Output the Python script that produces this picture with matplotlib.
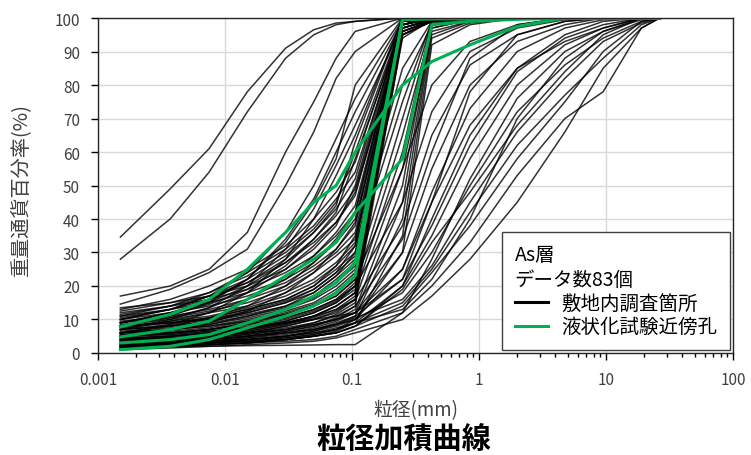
import matplotlib.pyplot as plt
from matplotlib.ticker import FixedLocator, LogLocator, NullFormatter, FuncFormatter
from matplotlib.lines import Line2D

plt.rcParams['font.family'] = ['Noto Sans CJK JP', 'DejaVu Sans']

# sieve / hydrometer grain sizes (mm)
grain_size = [0.0015, 0.0037, 0.0075, 0.015, 0.03, 0.05, 0.075, 0.106,
              0.25, 0.425, 0.85, 2.0, 4.75, 9.5, 19.0, 26.5]

# percent passing, site investigation holes
site_curves = [
    [34.6, 49, 61, 78, 91, 96.5, 98.5, 99, 100, 100, 100, 100, 100, 100, 100, 100],
    [28, 40, 54, 72, 88, 95, 98, 99, 100, 100, 100, 100, 100, 100, 100, 100],
    [17, 20, 25, 36, 60, 75, 88, 96, 100, 100, 100, 100, 100, 100, 100, 100],
    [14.6, 19, 24, 31, 50, 66, 82, 90, 100, 100, 100, 100, 100, 100, 100, 100],
    [12, 14, 16, 19, 24, 29, 35, 42, 99, 100, 100, 100, 100, 100, 100, 100],
    [11, 13, 15, 18, 22, 27, 33, 40, 98, 99.5, 100, 100, 100, 100, 100, 100],
    [10, 12, 14, 17, 21, 26, 31, 38, 99, 100, 100, 100, 100, 100, 100, 100],
    [9.5, 11, 13, 16, 20, 25, 30, 36, 97, 99.5, 100, 100, 100, 100, 100, 100],
    [9, 10.5, 12.5, 15, 19, 24, 29, 34, 99.5, 100, 100, 100, 100, 100, 100, 100],
    [8.5, 10, 12, 14, 18, 22, 27, 33, 96, 99, 100, 100, 100, 100, 100, 100],
    [8, 9.5, 11, 13.5, 17, 21, 26, 32, 99, 100, 100, 100, 100, 100, 100, 100],
    [8, 9, 10.5, 13, 16, 20, 25, 30, 95, 99, 100, 100, 100, 100, 100, 100],
    [7.5, 9, 10, 12.5, 15.5, 19, 24, 29, 98, 100, 100, 100, 100, 100, 100, 100],
    [7, 8.5, 10, 12, 15, 18, 23, 28, 99.5, 100, 100, 100, 100, 100, 100, 100],
    [7, 8, 9.5, 11.5, 14, 17, 22, 27, 97, 99.5, 100, 100, 100, 100, 100, 100],
    [6.5, 7.5, 9, 11, 13.5, 16.5, 21, 26, 99, 100, 100, 100, 100, 100, 100, 100],
    [6, 7, 8.5, 10.5, 13, 16, 20, 25, 96, 99, 100, 100, 100, 100, 100, 100],
    [6, 7, 8, 10, 12.5, 15, 19, 24, 98, 100, 100, 100, 100, 100, 100, 100],
    [5.5, 6.5, 7.5, 9.5, 12, 14.5, 18, 23, 99, 100, 100, 100, 100, 100, 100, 100],
    [5.5, 6, 7, 9, 11, 14, 17, 22, 95, 99, 100, 100, 100, 100, 100, 100],
    [5, 6, 7, 8.5, 10.5, 13, 16, 21, 97, 99.5, 100, 100, 100, 100, 100, 100],
    [5, 5.5, 6.5, 8, 10, 12.5, 15.5, 20, 99, 100, 100, 100, 100, 100, 100, 100],
    [4.5, 5, 6, 7.5, 9.5, 12, 15, 19, 98, 100, 100, 100, 100, 100, 100, 100],
    [4, 5, 6, 7, 9, 11, 14, 18, 96, 99, 100, 100, 100, 100, 100, 100],
    [4, 4.5, 5.5, 6.5, 8.5, 10.5, 13, 17, 99.5, 100, 100, 100, 100, 100, 100, 100],
    [3.5, 4, 5, 6, 8, 10, 12.5, 16, 97, 99.5, 100, 100, 100, 100, 100, 100],
    [3, 3.5, 4.5, 5.5, 7, 9, 11.5, 15, 99, 100, 100, 100, 100, 100, 100, 100],
    [2.5, 3, 4, 5, 6.5, 8, 10.5, 14, 95, 99, 100, 100, 100, 100, 100, 100],
    [13, 16, 20, 25, 32, 40, 48, 57, 99, 100, 100, 100, 100, 100, 100, 100],
    [11, 14, 18, 24, 31, 38, 46, 54, 98, 100, 100, 100, 100, 100, 100, 100],
    [10, 13, 17, 22, 29, 36, 43, 52, 99.5, 100, 100, 100, 100, 100, 100, 100],
    [9, 12, 15, 20, 27, 34, 41, 49, 97, 99.5, 100, 100, 100, 100, 100, 100],
    [8, 10.5, 13.5, 18, 25, 32, 39, 47, 99, 100, 100, 100, 100, 100, 100, 100],
    [7, 9.5, 12, 16, 22, 29, 36, 44, 98, 100, 100, 100, 100, 100, 100, 100],
    [6, 8, 10.5, 14, 20, 27, 34, 42, 99, 100, 100, 100, 100, 100, 100, 100],
    [5, 7, 9, 12.5, 18, 24, 31, 39, 96, 99.5, 100, 100, 100, 100, 100, 100],
    [12.5, 15, 18, 23, 30, 37, 45, 60, 99, 100, 100, 100, 100, 100, 100, 100],
    [10.5, 13, 16, 21, 28, 36, 44, 63, 100, 100, 100, 100, 100, 100, 100, 100],
    [9, 11.5, 14.5, 19, 26, 34, 42, 58, 98, 100, 100, 100, 100, 100, 100, 100],
    [8, 11, 15, 22, 34, 46, 60, 72, 99, 100, 100, 100, 100, 100, 100, 100],
    [7, 10, 13.5, 20, 31, 43, 56, 68, 98, 100, 100, 100, 100, 100, 100, 100],
    [6, 8.5, 12, 18, 28, 40, 53, 65, 100, 100, 100, 100, 100, 100, 100, 100],
    [10, 13, 17, 24, 36, 50, 64, 76, 99.5, 100, 100, 100, 100, 100, 100, 100],
    [9, 12, 15.5, 22, 33, 45, 58, 80, 100, 100, 100, 100, 100, 100, 100, 100],
    [11.5, 14, 17, 21, 27, 33, 39, 48, 95, 99, 100, 100, 100, 100, 100, 100],
    [3, 4, 5, 6.5, 8.5, 11, 14, 18, 94, 99.5, 100, 100, 100, 100, 100, 100],
    [13.5, 15, 17, 20, 25, 31, 38, 50, 99, 100, 100, 100, 100, 100, 100, 100],
    [3, 3.5, 4, 5, 6.5, 8, 10, 13, 50, 98, 99.5, 100, 100, 100, 100, 100],
    [2.5, 3, 3.5, 4.5, 6, 7.5, 9.5, 12, 45, 97, 99.5, 100, 100, 100, 100, 100],
    [4, 4.5, 5.5, 7, 9, 11, 14, 18, 60, 99, 100, 100, 100, 100, 100, 100],
    [5, 6, 7, 9, 11.5, 14, 18, 23, 70, 98.5, 100, 100, 100, 100, 100, 100],
    [2, 2.5, 3, 4, 5, 6.5, 8.5, 11, 40, 96, 99, 100, 100, 100, 100, 100],
    [6, 7, 8.5, 11, 14, 18, 23, 30, 75, 99, 100, 100, 100, 100, 100, 100],
    [3.5, 4, 5, 6, 8, 10, 12, 16, 55, 95, 99, 100, 100, 100, 100, 100],
    [1.5, 2, 2.5, 3, 4, 5, 6.5, 9, 35, 94, 98.5, 100, 100, 100, 100, 100],
    [4.5, 5, 6, 7.5, 9.5, 12, 15, 20, 65, 97, 99.5, 100, 100, 100, 100, 100],
    [7, 8, 9.5, 12, 15, 19, 24, 32, 80, 98, 100, 100, 100, 100, 100, 100],
    [2, 2.5, 3, 3.5, 4.5, 5.5, 7, 10, 30, 92, 98, 100, 100, 100, 100, 100],
    [8, 9, 10.5, 13, 16, 20, 26, 35, 85, 99, 100, 100, 100, 100, 100, 100],
    [3, 3.5, 4.5, 5.5, 7, 8.5, 10, 12, 30, 55, 80, 93, 98, 100, 100, 100],
    [2, 2.5, 3, 4, 5, 6.5, 8, 10, 25, 48, 73, 90, 97, 99.5, 100, 100],
    [4, 5, 6, 7, 9, 11, 13, 16, 38, 65, 86, 95, 99, 100, 100, 100],
    [1.5, 2, 2.5, 3, 4, 5, 6, 8, 20, 40, 65, 85, 95, 99, 100, 100],
    [5, 6, 7, 8.5, 10.5, 13, 16, 20, 45, 72, 90, 97, 99.5, 100, 100, 100],
    [2.5, 3, 3.5, 4.5, 5.5, 7, 9, 11, 22, 45, 78, 95, 99, 100, 100, 100],
    [3.5, 4, 5, 6, 7.5, 9, 11, 14, 34, 60, 88, 98, 100, 100, 100, 100],
    [6, 7, 8, 9.5, 11.5, 14, 17, 22, 55, 80, 93, 98, 100, 100, 100, 100],
    [1.5, 2, 2.5, 3, 3.5, 4, 5, 7, 12, 20, 33, 53, 70, 78, 97, 100],
    [2, 2.5, 3, 3.5, 4.5, 5.5, 7, 9, 15, 25, 42, 62, 77, 88, 98, 100],
    [3, 3.5, 4, 5, 6, 7, 8.5, 10, 18, 30, 50, 72, 86, 94, 99, 100],
    [1, 1.5, 2, 2.5, 3, 3.5, 4.5, 6, 10, 17, 28, 45, 66, 85, 97, 100],
    [2.5, 3, 3.5, 4, 5, 6, 7.5, 9, 20, 35, 58, 80, 92, 97, 100, 100],
    [1.5, 2, 2.5, 3, 4, 5, 6, 8, 14, 24, 38, 58, 75, 90, 99, 100],
    [4, 4.5, 5, 6, 7, 8.5, 10, 12, 22, 38, 62, 84, 94, 98, 100, 100],
    [1.5, 1.8, 2, 2.2, 2.3, 2.4, 2.5, 2.5, 12, 28, 52, 76, 90, 96, 99.5, 100],
    [2, 2.5, 3, 3.5, 4, 5, 6, 8, 19, 33, 48, 68, 84, 95, 100, 100],
    [3, 3.5, 4, 5, 6, 7, 8.5, 10.5, 16, 26, 45, 66, 82, 93, 98.5, 100],
    [2.5, 3, 3.5, 4, 5, 6, 7, 9, 13, 22, 40, 70, 88, 96, 100, 100],
    [5, 5.5, 6.5, 7.5, 9, 10, 11, 12, 25, 45, 68, 85, 93, 97, 100, 100],
]

# percent passing, holes next to the liquefaction tests
liq_curves = [
    [7.8, 11.5, 16, 25, 36, 45, 50, 60, 80, 87, 92, 97.5, 100, 100, 100, 100],
    [4.8, 7, 9.5, 16, 23, 28, 33, 42, 58, 98, 99, 99.6, 100, 100, 100, 100],
    [3, 4, 5.5, 9, 13, 17, 21, 27, 99.5, 99.7, 99.8, 100, 100, 100, 100, 100],
    [1, 2, 4, 7.5, 11, 14, 18, 23, 99.7, 100, 100, 100, 100, 100, 100, 100],
]

green = '#00B050'

fig = plt.figure(figsize=(7.51, 4.56), dpi=100)
ax = fig.add_axes([0.1305, 0.2237, 0.8455, 0.7346])

for pp in site_curves:
    ax.plot(grain_size, pp, color='black', lw=1.1, alpha=0.8, zorder=3)
for pp in liq_curves:
    ax.plot(grain_size, pp, color=green, lw=2.2, zorder=4)

ax.set_xscale('log')
ax.set_xlim(0.001, 100)
ax.set_ylim(0, 100)
ax.xaxis.set_major_locator(FixedLocator([0.001, 0.01, 0.1, 1, 10, 100]))
ax.xaxis.set_major_formatter(FuncFormatter(lambda v, _: f'{v:g}'))
ax.xaxis.set_minor_locator(LogLocator(base=10, subs=range(2, 10)))
ax.xaxis.set_minor_formatter(NullFormatter())
ax.set_yticks(range(0, 101, 10))

ax.grid(True, which='major', color='#d9d9d9', lw=1.0, zorder=0)
ax.tick_params(axis='both', which='major', direction='out', length=5, width=1,
               labelsize=11, labelcolor='#404040', pad=8)
ax.tick_params(axis='x', which='minor', direction='out', length=3, width=1)
for s in ax.spines.values():
    s.set_color('#262626')
    s.set_linewidth(1.0)
    s.set_zorder(5)

ax.set_ylabel('重量通貨百分率(%)', fontsize=14.5, color='#404040')
ax.yaxis.set_label_coords(-0.105, 0.49)
ax.set_xlabel('粒径(mm)', fontsize=13.5, color='#404040', labelpad=8)
fig.text(0.537, 0.035, '粒径加積曲線', ha='center', va='center',
         fontsize=21, fontweight='bold', color='black')

handles = [Line2D([], [], color='black', lw=2.2),
           Line2D([], [], color=green, lw=2.2)]
leg = ax.legend(handles, ['敷地内調査箇所', '液状化試験近傍孔'],
                title='As層\nデータ数83個', loc='lower right',
                bbox_to_anchor=(1.0, 0.0), borderaxespad=0.15, fontsize=14,
                title_fontsize=14, alignment='left', fancybox=False,
                framealpha=1, edgecolor='#404040', handlelength=1.7,
                handletextpad=0.7, labelspacing=0.15, borderpad=0.65)
leg.get_frame().set_linewidth(1.0)
leg.set_zorder(6)

fig.savefig('out.png', dpi=100)
